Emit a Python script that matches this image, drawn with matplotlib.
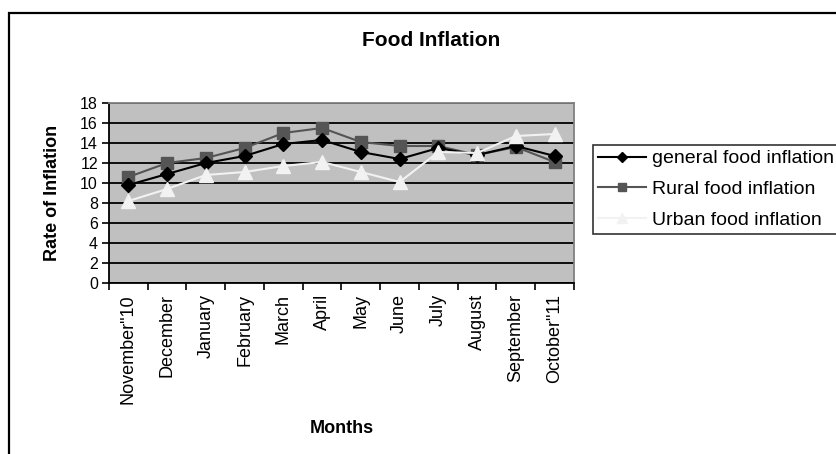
import numpy as np
import matplotlib.pyplot as plt
from matplotlib.patches import Rectangle

plt.rcParams['font.family'] = ['Liberation Sans', 'DejaVu Sans']

months = ['November"10', 'December', 'January', 'February', 'March', 'April',
          'May', 'June', 'July', 'August', 'September', 'October"11']
general = [9.8, 10.9, 12.0, 12.7, 13.9, 14.3, 13.1, 12.4, 13.5, 12.8, 13.7, 12.7]
rural = [10.6, 12.0, 12.5, 13.5, 15.0, 15.5, 14.1, 13.7, 13.7, 12.8, 13.6, 12.1]
urban = [8.2, 9.4, 10.8, 11.1, 11.7, 12.1, 11.1, 10.1, 13.1, 13.0, 14.7, 14.9]
yticks = list(range(0, 19, 2))

W, H = 837, 454
fig = plt.figure(figsize=(W / 100, H / 100), dpi=100)

# outer chart frame (runs off the right and bottom edges)
fig.patches.append(Rectangle((9 / W, -0.1), 1.2, 1 - 13 / H + 0.1,
                             transform=fig.transFigure, fill=False,
                             edgecolor='black', linewidth=1.6, zorder=0))

ax = fig.add_axes([109 / W, 1 - 283 / H, (574 - 109) / W, (283 - 103) / H])
ax.set_facecolor('#C0C0C0')

x = np.arange(len(months))
ax.plot(x, general, color='black', lw=1.5, marker='D', ms=7,
        mfc='black', mec='black', label='general food inflation', zorder=4)
ax.plot(x, rural, color='#555555', lw=1.5, marker='s', ms=8,
        mfc='#555555', mec='#555555', label='Rural food inflation', zorder=3)
ax.plot(x, urban, color='#F2F2F2', lw=1.5, marker='^', ms=10,
        mfc='#F2F2F2', mec='#F2F2F2', label='Urban food inflation', zorder=5)

ax.set_ylim(0, 18)
ax.set_xlim(-0.5, len(months) - 0.5)
ax.set_yticks(yticks)
ax.yaxis.grid(True, color='black', lw=1.3)
ax.set_axisbelow(True)
ax.tick_params(axis='y', direction='out', length=5, width=1.2,
               labelsize=11.5, pad=3)

ax.set_xticks(np.arange(-0.5, len(months)), labels=[])
ax.set_xticks(x, labels=months, minor=True, rotation=90)
ax.tick_params(axis='x', which='major', direction='out', length=5, width=1.2)
ax.tick_params(axis='x', which='minor', length=0, labelsize=13, pad=8)

for side in ['left', 'bottom']:
    ax.spines[side].set_color('black')
    ax.spines[side].set_linewidth(1.3)
for side in ['top', 'right']:
    ax.spines[side].set_color('#808080')
    ax.spines[side].set_linewidth(1.3)

ax.set_ylabel('Rate of Inflation', fontsize=13, fontweight='bold', labelpad=14)
ax.set_xlabel('Months', fontsize=13, fontweight='bold', labelpad=12)

fig.text(431 / W, 1 - 40 / H, 'Food Inflation', ha='center', va='center',
         fontsize=15, fontweight='bold')

leg = ax.legend(loc='upper left', bbox_to_anchor=(593 / W, 1 - 145 / H),
                bbox_transform=fig.transFigure, fontsize=14, frameon=True,
                fancybox=False, edgecolor='black', facecolor='white',
                handlelength=2.5, handletextpad=0.3, borderpad=0.25,
                labelspacing=0.68, borderaxespad=0, markerscale=0.75)
leg.get_frame().set_linewidth(1.2)

fig.savefig('out.png', dpi=100)
